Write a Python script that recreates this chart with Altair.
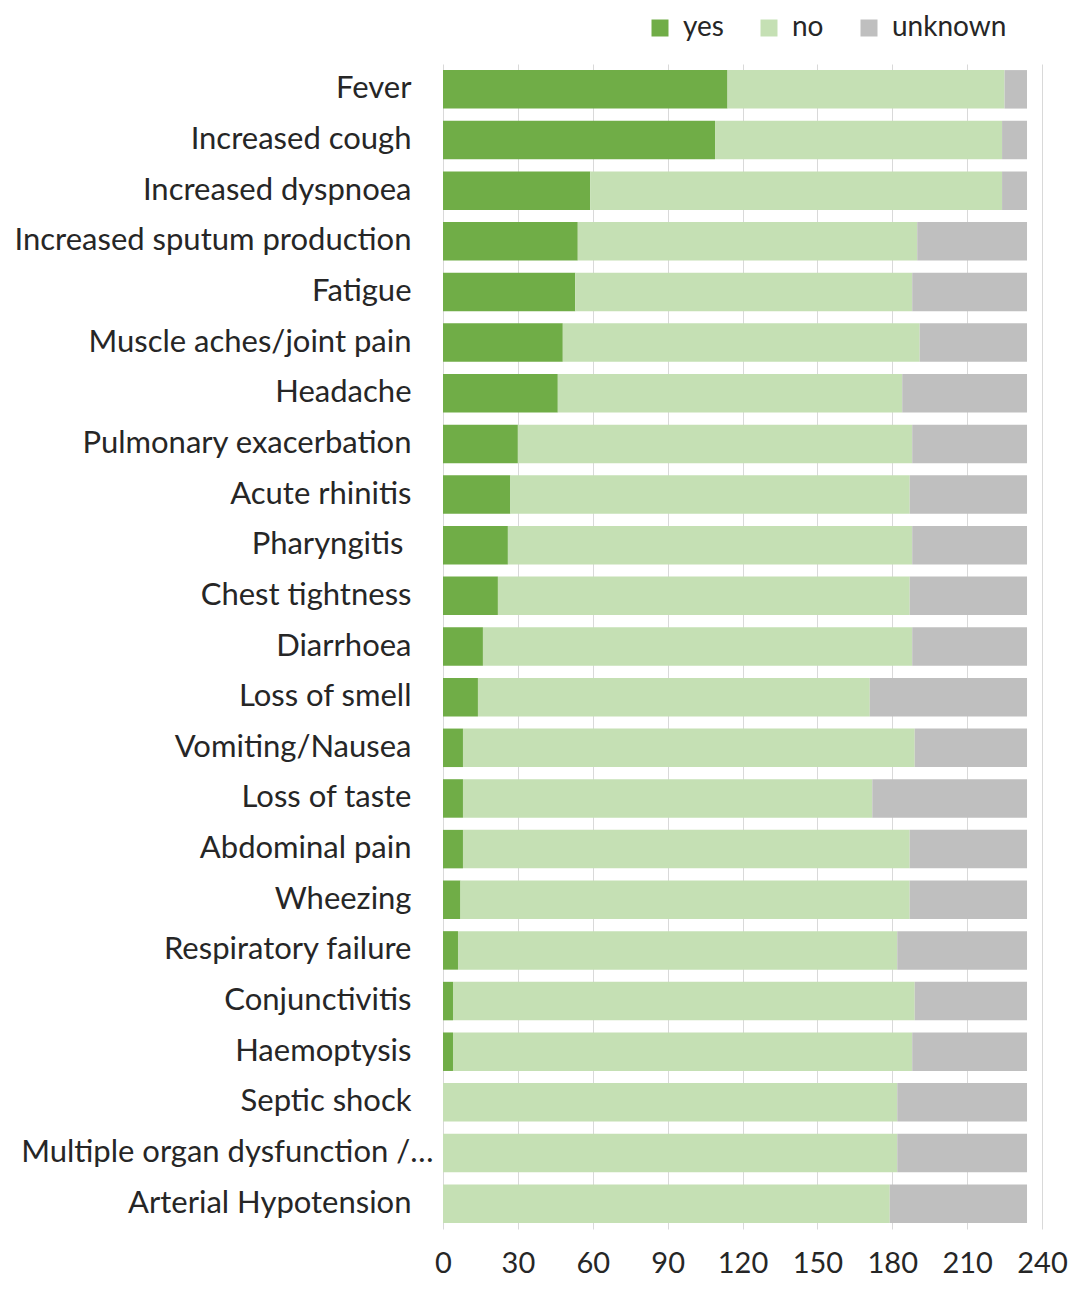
import altair as alt
import pandas as pd

categories = [
    "Fever", "Increased cough", "Increased dyspnoea", "Increased sputum production",
    "Fatigue", "Muscle aches/joint pain", "Headache", "Pulmonary exacerbation",
    "Acute rhinitis", "Pharyngitis", "Chest tightness", "Diarrhoea",
    "Loss of smell", "Vomiting/Nausea", "Loss of taste", "Abdominal pain",
    "Wheezing", "Respiratory failure", "Conjunctivitis", "Haemoptysis",
    "Septic shock", "Multiple organ dysfunction /\u2026", "Arterial Hypotension",
]
yes_vals = [114, 109, 59, 54, 53, 48, 46, 30, 27, 26, 22, 16, 14, 8, 8, 8, 7, 6, 4, 4, 0, 0, 0]
no_vals = [111, 115, 165, 136, 135, 143, 138, 158, 160, 162, 165, 172, 157, 181, 164, 179, 180, 176, 185, 184, 182, 182, 179]
unknown_vals = [9, 10, 10, 44, 46, 43, 50, 46, 47, 46, 47, 46, 63, 45, 62, 47, 47, 52, 45, 46, 52, 52, 55]

series = ["yes", "no", "unknown"]
colors = ["#70AD47", "#C5E0B4", "#BFBFBF"]
x_ticks = [0, 30, 60, 90, 120, 150, 180, 210, 240]

rows = []
for i, c in enumerate(categories):
    for k, (s, vals) in enumerate(zip(series, [yes_vals, no_vals, unknown_vals])):
        rows.append({"symptom": c, "answer": s, "count": vals[i], "order": k})
df = pd.DataFrame(rows)

FONT = "Lato"
FS = 31
TXT = "#262626"

chart = alt.Chart(df).mark_bar().encode(
    y=alt.Y(
        "symptom:N",
        sort=categories,
        title=None,
        scale=alt.Scale(paddingInner=0.24, paddingOuter=0.12),
        axis=alt.Axis(
            ticks=False,
            domain=False,
            labelFont=FONT,
            labelFontSize=FS,
            labelColor=TXT,
            labelLimit=500,
            labelPadding={
                "condition": [
                    {"test": "indexof(datum.value, 'Multiple') >= 0", "value": 10},
                    {"test": "indexof(datum.value, 'Pharyngitis') >= 0", "value": 40},
                ],
                "value": 32,
            },
        ),
    ),
    x=alt.X(
        "count:Q",
        stack="zero",
        title=None,
        scale=alt.Scale(domain=[0, 240], nice=False),
        axis=alt.Axis(
            values=x_ticks,
            ticks=False,
            domain=False,
            grid=True,
            gridColor="#D9D9D9",
            gridWidth=1,
            labelFont=FONT,
            labelFontSize=29,
            labelColor=TXT,
            labelPadding=20,
            labelFlush=False,
        ),
    ),
    color=alt.Color(
        "answer:N",
        scale=alt.Scale(domain=series, range=colors),
        legend=alt.Legend(
            title=None,
            orient="none",
            direction="horizontal",
            legendX=203,
            legendY=-50,
            symbolType="square",
            symbolSize=289,
            symbolStrokeWidth=0,
            labelFont=FONT,
            labelFontSize=28,
            labelColor=TXT,
            labelOffset=9,
            columnPadding=31,
        ),
    ),
    order=alt.Order("order:Q"),
).properties(
    width=599,
    height=1165,
    autosize=alt.AutoSizeParams(type="none"),
    padding={"left": 435, "top": 56, "right": 26, "bottom": 50},
).configure_view(stroke=None)

chart.save("out.html", embed_options={"renderer": "svg", "actions": False})
